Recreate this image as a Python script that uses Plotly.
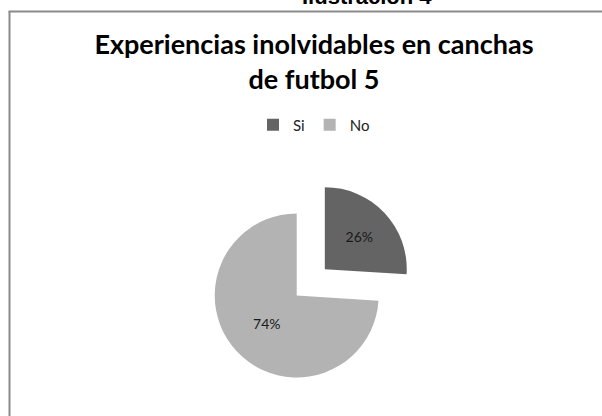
import plotly.graph_objects as go

labels = ["Si", "No"]
values = [26, 74]
colors = ["#646464", "#b3b3b3"]
pulls = [0.47, 0]

title_text = "Experiencias inolvidables en canchas<br>de futbol 5"
caption_text = "Ilustración 4"

W, H = 602, 416

fig = go.Figure(
    go.Pie(
        labels=labels,
        values=values,
        marker=dict(colors=colors, line=dict(width=0)),
        pull=pulls,
        sort=False,
        direction="clockwise",
        rotation=0,
        textinfo="percent",
        textposition="inside",
        insidetextorientation="horizontal",
        textfont=dict(family="Lato, Open Sans, sans-serif", size=14, color="#1a1a1a"),
        domain=dict(x=[0, 296.7 * 2 / W], y=[0, 241 / H]),
        hoverinfo="label+percent",
    )
)

fig.update_layout(
    width=W,
    height=H,
    margin=dict(l=0, r=0, t=0, b=0),
    paper_bgcolor="white",
    plot_bgcolor="white",
    title=dict(
        text=title_text,
        x=314 / W,
        xanchor="center",
        xref="paper",
        y=1 - 54 / H,
        yanchor="top",
        yref="container",
        font=dict(family="Lato, Open Sans, sans-serif", size=27, color="#000000", weight="bold"),
    ),
    legend=dict(
        orientation="h",
        x=314 / W,
        xanchor="center",
        y=1 - 125 / H,
        yanchor="middle",
        font=dict(family="Lato, Open Sans, sans-serif", size=15, color="#222222"),
        itemwidth=30,
        bgcolor="rgba(0,0,0,0)",
    ),
    annotations=[
        dict(
            text="<b>" + caption_text + "</b>",
            x=367 / W,
            xref="paper",
            xanchor="center",
            y=1 - 11 / H,
            yref="paper",
            yanchor="bottom",
            showarrow=False,
            font=dict(family="Liberation Sans, Arial, sans-serif", size=22, color="#000000"),
        )
    ],
    shapes=[
        dict(type="line", xref="paper", yref="paper",
             x0=9.5 / W, x1=9.5 / W, y0=1 - 11.5 / H, y1=-0.1,
             line=dict(color="#8a8a8a", width=2)),
        dict(type="line", xref="paper", yref="paper",
             x0=8.5 / W, x1=1.1, y0=1 - 11.5 / H, y1=1 - 11.5 / H,
             line=dict(color="#8a8a8a", width=2)),
    ],
)

fig.write_html("out.html")
